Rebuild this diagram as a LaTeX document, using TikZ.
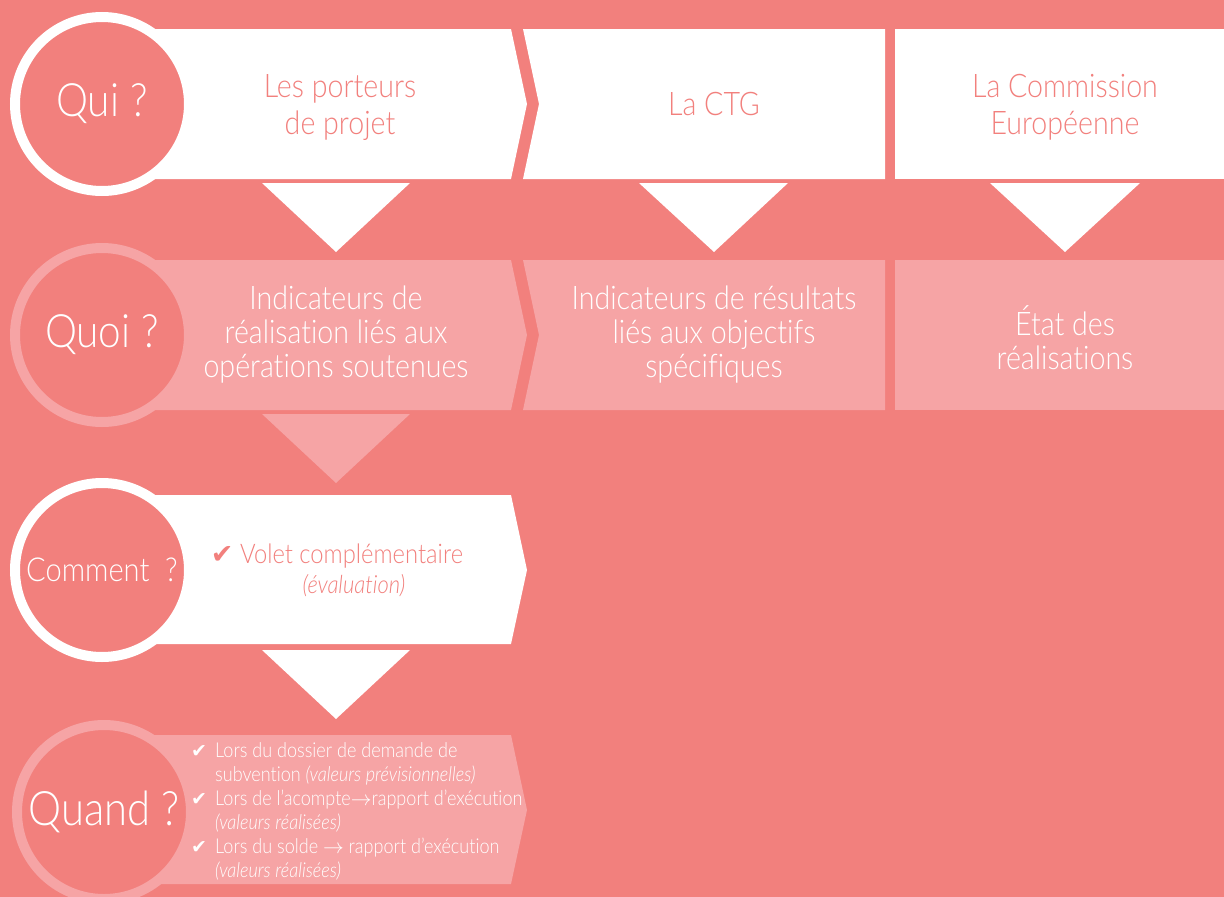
\documentclass[tikz,border=0pt]{standalone}
\usepackage{fontspec}
\setmainfont{Lato}[UprightFont=* Light, ItalicFont=* Light Italic, FakeStretch=0.88, Ligatures=NoCommon]
\newfontfamily\symf{DejaVu Sans}
\definecolor{bg}{HTML}{F2807D}
\definecolor{pinkl}{HTML}{F6A4A5}
\newcommand\myfs[2]{\fontsize{#1}{#2}\selectfont}
\newcommand\ck{\makebox[24pt][l]{{\symf\myfs{19}{19}✔}}}
\newcommand\arr{\ensuremath{\rightarrow}}
\tikzset{
  ring/.style={circle, fill=bg, line width=10pt, minimum size=174pt, inner sep=0pt, text=white},
  ringw/.style={ring, draw=white},
  ringp/.style={ring, draw=pinkl},
  lbl/.style={align=center, inner sep=0pt},
  lblw/.style={lbl, text=white},
  lbls/.style={lbl, text=bg},
}
\begin{document}
\begin{tikzpicture}[x=1pt,y=-1pt]
\fill[bg] (0,0) rectangle (1224,897);
\useasboundingbox (0,0) rectangle (1224,897);
% row 1 bands
\fill[white] (100,29) -- (511,29) -- (527,104) -- (511,179) -- (100,179) -- cycle;
\fill[white] (523,29) -- (885,29) -- (885,179) -- (523,179) -- (539,104) -- cycle;
\fill[white] (895,29) -- (1224,29) -- (1224,179) -- (895,179) -- cycle;
% row 2 bands
\fill[pinkl] (100,260) -- (511,260) -- (527,335) -- (511,410) -- (100,410) -- cycle;
\fill[pinkl] (523,260) -- (885,260) -- (885,410) -- (523,410) -- (539,335) -- cycle;
\fill[pinkl] (895,260) -- (1224,260) -- (1224,410) -- (895,410) -- cycle;
% row 3 band
\fill[white] (100,495) -- (511,495) -- (527,570) -- (511,644) -- (100,644) -- cycle;
% row 4 band
\fill[pinkl] (100,735) -- (511,735) -- (527,810) -- (511,884) -- (100,884) -- cycle;
% triangles
\fill[white] (262,183) -- (410,183) -- (336,252) -- cycle;
\fill[white] (639,183) -- (788,183) -- (714,252) -- cycle;
\fill[white] (990,183) -- (1140,183) -- (1065,252) -- cycle;
\fill[pinkl] (262,414) -- (410,414) -- (336,483) -- cycle;
\fill[white] (262,650) -- (410,650) -- (336,719) -- cycle;
% circles
\node[ringw, font=\myfs{46}{46}] (qui) at (102,104) {Qui ?};
\node[ringp, font=\myfs{46}{46}] (quoi) at (102,335) {Quoi ?};
\node[ringw, font=\myfs{33}{33}] (comment) at (102,570) {Comment\ \ ?};
\node[ringp, font=\myfs{47.5}{47.5}] (quand) at (104,812) {Quand ?};
% row 1 texts
\node[lbls, font=\myfs{32.5}{37}] (porteurs) at (340,107) {Les porteurs\\de projet};
\node[lbls, font=\myfs{32.5}{37}] (ctg) at (714,104) {La CTG};
\node[lbls, font=\myfs{32.5}{37}] (ce) at (1065,107) {La Commission\\Européenne};
% row 2 texts
\node[lblw, font=\myfs{32.5}{34}] (real) at (336,335) {Indicateurs de\\réalisation liés aux\\opérations soutenues};
\node[lblw, font=\myfs{32.5}{34}] (res) at (714,335) {Indicateurs de résultats\\liés aux objectifs\\spécifiques};
\node[lblw, font=\myfs{32.5}{34}] (etat) at (1065,338) {État des\\réalisations};
% row 3 texts
\node[lbls, font=\myfs{27}{30}] (volet) at (337,556) {{\symf\myfs{27}{27}✔}\ Volet complémentaire};
\node[lbls, font=\myfs{25}{28}\itshape] (eval) at (354,586) {(évaluation)};
% row 4 texts
\node[anchor=north west, align=left, inner sep=0pt, text=white, font=\myfs{20.5}{24}] (lors) at (191,742)
  {\ck Lors du dossier de demande de\\
   \hphantom{\ck}subvention \textit{(valeurs prévisionnelles)}\\
   \ck Lors de l’acompte\arr rapport d’exécution\\
   \hphantom{\ck}\textit{(valeurs réalisées)}\\
   \ck Lors du solde \arr\ rapport d’exécution\\
   \hphantom{\ck}\textit{(valeurs réalisées)}};
\end{tikzpicture}
\end{document}
